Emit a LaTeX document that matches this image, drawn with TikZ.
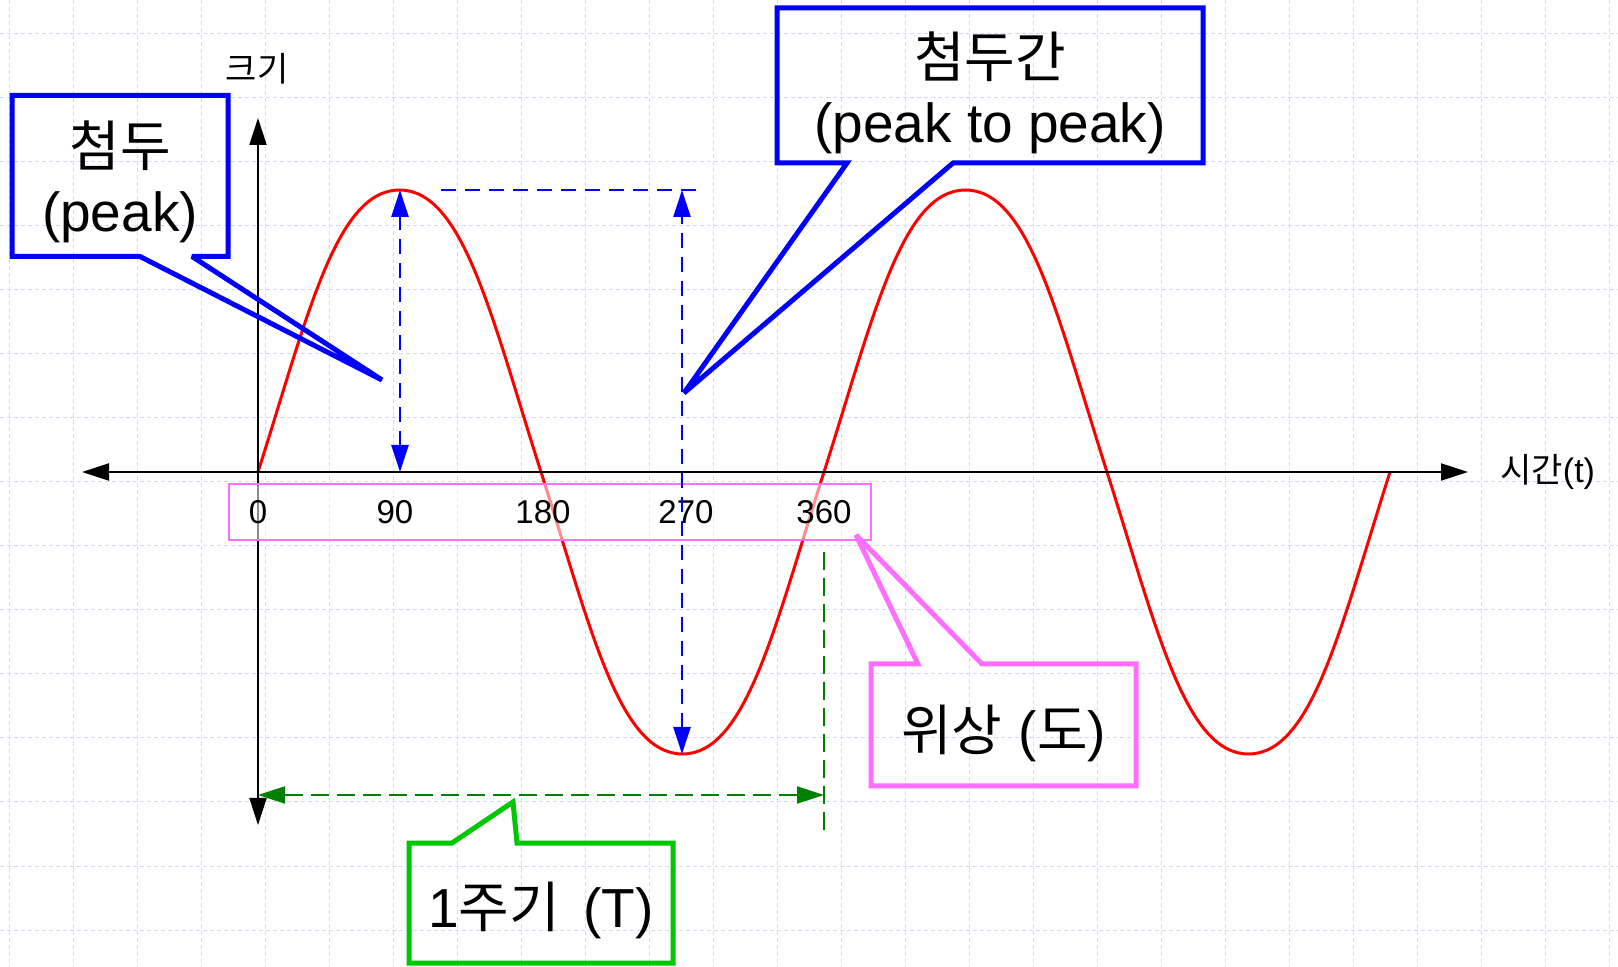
\documentclass[tikz,border=0pt]{standalone}
\usepackage{fontspec}
\setmainfont{Liberation Sans}
\newfontfamily\kr{Noto Sans CJK KR}
\usepackage{tikz}
\usetikzlibrary{arrows.meta, calc}
\definecolor{gridBlue}{HTML}{D0D9F7}
\definecolor{waveRed}{HTML}{FF0000}
\definecolor{callBlue}{HTML}{0000FF}
\definecolor{callPink}{HTML}{FF6EFF}
\definecolor{callGreen}{HTML}{00C800}
\definecolor{periodGreen}{HTML}{008000}

\begin{document}
\begin{tikzpicture}[x=0.5pt, y=-0.5pt,
  >={Triangle[length=13.5pt, width=8.5pt]},
  gridline/.style={gridBlue, line width=0.5pt, dash pattern=on 2pt off 1.5pt},
  axisline/.style={black, line width=1pt},
  wave/.style={waveRed, line width=1.5pt},
  bluedash/.style={callBlue, line width=1.2pt, dash pattern=on 7.5pt off 4.5pt},
  greendash/.style={periodGreen, line width=1pt, dash pattern=on 9pt off 4pt},
  calltext/.style={font=\fontsize{27.5}{32.5}\selectfont, align=center, inner sep=0pt},
  callbox/.style={line width=2.5pt, miter limit=2.2, inner sep=0pt, outer sep=0pt},
  tickbox/.style={draw=callPink, line width=1.1pt, fill=white, fill opacity=0.55},
  ticklabel/.style={font=\fontsize{16.5}{20}\selectfont, inner sep=0pt},
  axislabel/.style={font=\fontsize{17}{20}\selectfont, inner sep=0pt}]

  \fill[white] (0,0) rectangle (1618,967);
  \useasboundingbox (0,0) rectangle (1618,967);

  % grid paper
  \foreach \gx in {9,73,...,1609}
    \draw[gridline] (\gx,0) -- (\gx,967);
  \foreach \gy in {34,98,...,930}
    \draw[gridline] (0,\gy) -- (1618,\gy);

  % two periods of the wave
  \foreach \X in {258,824}
    \draw[wave] (\X,472) .. controls ({\X+49.5},316.9) and ({\X+77.8},190) .. ({\X+141.5},190)
      .. controls ({\X+205.2},190) and ({\X+233.5},316.9) .. ({\X+283},472)
      .. controls ({\X+332.5},627.1) and ({\X+360.8},754) .. ({\X+424.5},754)
      .. controls ({\X+488.2},754) and ({\X+516.5},627.1) .. ({\X+566},472);

  % axes
  \coordinate (O) at (258,472);
  \coordinate (xL) at (82,472);
  \coordinate (xR) at (1468,472);
  \coordinate (yT) at (258,118);
  \coordinate (yB) at (258,825);
  \draw[axisline, <->] (xL) -- (xR);
  \draw[axisline, <->] (yB) -- (yT);
  \node[axislabel] (ylab) at (257,69) {\kr 크기};
  \node[axislabel, anchor=west] (xlab) at (1500,472) {{\kr 시간}(t)};

  % phase labels
  \node[tickbox, minimum width=321pt, minimum height=28pt] (ticks) at (550,512) {};
  \foreach \deg/\px in {0/258, 90/395, 180/543, 270/686, 360/824}
    \node[ticklabel] (t\deg) at (\px,512) {\deg};

  % peak and peak to peak
  \coordinate (pk1) at (400,190);
  \coordinate (ax1) at (400,472);
  \coordinate (pk2) at (682,190);
  \coordinate (tr1) at (682,754);
  \coordinate (hl) at (441,190);
  \coordinate (hr) at (702,190);
  \draw[bluedash, <->] (ax1) -- (pk1);
  \draw[bluedash, <->] (tr1) -- (pk2);
  \draw[bluedash] (hl) -- (hr);

  % one period
  \coordinate (pS) at (258,795);
  \coordinate (pE) at (824,795);
  \coordinate (pTop) at (824,552);
  \coordinate (pBot) at (824,836);
  \draw[greendash, <->] (pS) -- (pE);
  \draw[greendash] (pTop) -- (pBot);

  % callouts
  \node[callbox, minimum width=108pt, minimum height=80.5pt] (peakbox) at (120,176) {};
  \node[calltext, yshift=-3pt] (peak) at (peakbox) {{\kr 첨두}\\(peak)};
  \coordinate (peaktip) at (382,380);
  \draw[callbox, callBlue] (peakbox.south west) |- (peakbox.north east) |- ($(peakbox.south west)+(180,0)$)
    -- (peaktip) -- ($(peakbox.south west)+(128,0)$) -- cycle;

  \node[callbox, minimum width=213pt, minimum height=77.5pt] (ptpbox) at (990,85.5) {};
  \node[calltext, yshift=-3.5pt] (ptp) at (ptpbox) {{\kr 첨두간}\\(peak to peak)};
  \coordinate (ptptip) at (684,393);
  \draw[callbox, callBlue] (ptpbox.south west) |- (ptpbox.north east) |- ($(ptpbox.south west)+(176,0)$)
    -- (ptptip) -- ($(ptpbox.south west)+(70,0)$) -- cycle;

  \node[callbox, minimum width=132.5pt, minimum height=61pt] (phasebox) at (1003.5,725) {};
  \node[calltext, yshift=-4pt] (phase) at (phasebox) {{\kr 위상}\hspace{0.3em}({\kr 도})};
  \coordinate (phasetip) at (856,535);
  \draw[callbox, callPink] (phasebox.north west) -- ($(phasebox.north west)+(47,0)$) -- (phasetip)
    -- ($(phasebox.north west)+(111,0)$) -- (phasebox.north east) |- (phasebox.south west) -- cycle;

  \node[callbox, minimum width=132pt, minimum height=60pt] (periodbox) at (541,903) {};
  \node[calltext, yshift=-3.5pt] (period) at (periodbox) {1{\kr 주기}\hspace{0.15em} (T)};
  \coordinate (periodtip) at (513,802);
  \draw[callbox, callGreen] (periodbox.north west) -- ($(periodbox.north west)+(43,0)$) -- (periodtip)
    -- ($(periodbox.north west)+(108,0)$) -- (periodbox.north east) |- (periodbox.south west) -- cycle;
\end{tikzpicture}
\end{document}
